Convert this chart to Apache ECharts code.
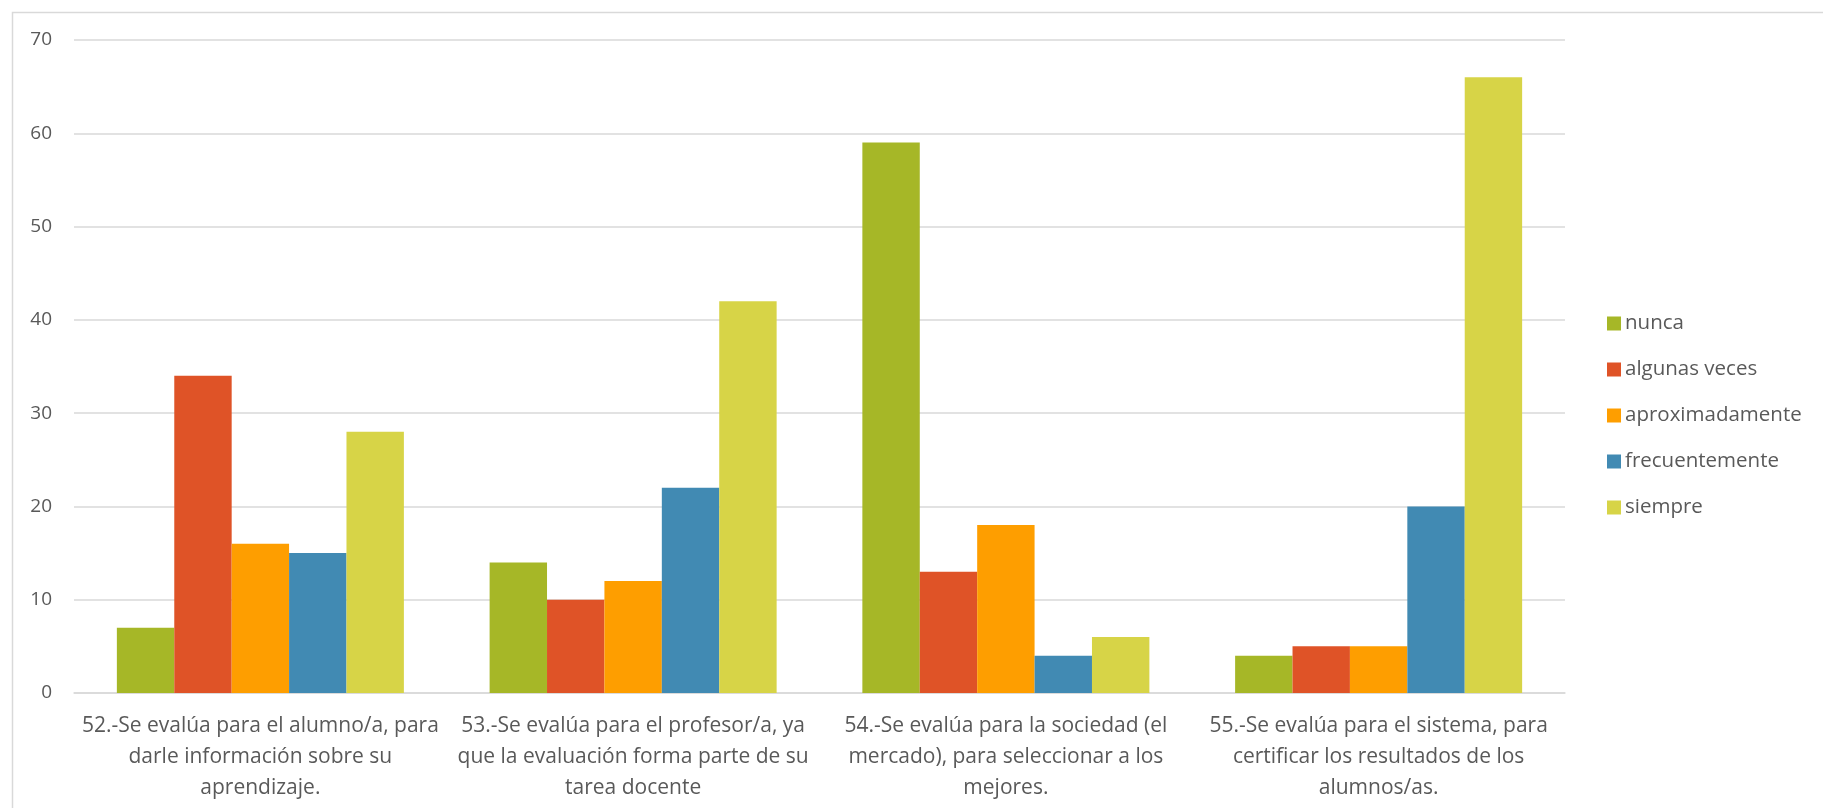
<!DOCTYPE html>
<html>
<head>
<meta charset="utf-8">
<script src="https://cdn.jsdelivr.net/npm/echarts@6/dist/echarts.min.js"></script>
<style>
html,body{margin:0;padding:0;background:#fff;}
#c{width:1823px;height:808px;}
</style>
</head>
<body>
<div id="c"></div>
<script>
const categories = [
  "52.-Se evalúa para el alumno/a, para\ndarle información sobre su\naprendizaje.",
  "53.-Se evalúa para el profesor/a, ya\nque la evaluación forma parte de su\ntarea docente",
  "54.-Se evalúa para la sociedad (el\nmercado), para seleccionar a los\nmejores.",
  "55.-Se evalúa para el sistema, para\ncertificar los resultados de los\nalumnos/as."
];
const seriesNames = ["nunca", "algunas veces", "aproximadamente", "frecuentemente", "siempre"];
const nunca = [7, 14, 59, 4];
const algunasVeces = [34, 10, 13, 5];
const aproximadamente = [16, 12, 18, 5];
const frecuentemente = [15, 22, 4, 20];
const siempre = [28, 42, 6, 66];
const colors = ["#A6B727", "#DF5327", "#FE9E00", "#418AB3", "#D7D447"];

const values = [nunca, algunasVeces, aproximadamente, frecuentemente, siempre];
const font = "'Open Sans', Lato, sans-serif";
const chart = echarts.init(document.getElementById('c'));
chart.setOption({
  animation: false,
  textStyle: {fontFamily: font},
  graphic: [{
    type: 'rect', left: 10, top: 10,
    shape: {width: 1812, height: 797},
    style: {fill: 'none', stroke: '#d9d9d9', lineWidth: 1.5},
    silent: true
  }],
  grid: {left: 74, right: 258, top: 40, bottom: 115},
  legend: {
    orient: 'vertical', left: 1602, top: 308,
    icon: 'rect', itemWidth: 14, itemHeight: 14, itemGap: 25,
    textStyle: {color: '#595959', fontSize: 20.5, lineHeight: 20, fontFamily: font, padding: [0,0,0,-1]},
    data: seriesNames
  },
  xAxis: {
    type: 'category', data: categories,
    axisLine: {lineStyle: {color: '#d9d9d9', width: 1.5}},
    axisTick: {show: false},
    axisLabel: {color: '#595959', fontSize: 21, lineHeight: 31, margin: 18, interval: 0, fontFamily: font}
  },
  yAxis: {
    type: 'value', min: 0, max: 70, interval: 10,
    axisLine: {show: false}, axisTick: {show: false},
    splitLine: {lineStyle: {color: '#d9d9d9', width: 1.5}},
    axisLabel: {color: '#595959', fontSize: 19, margin: 22, fontFamily: font}
  },
  series: seriesNames.map((n, i) => ({
    name: n, type: 'bar', data: values[i],
    itemStyle: {color: colors[i]},
    barGap: '0%', barCategoryGap: '23%'
  }))
});
</script>
</body>
</html>
